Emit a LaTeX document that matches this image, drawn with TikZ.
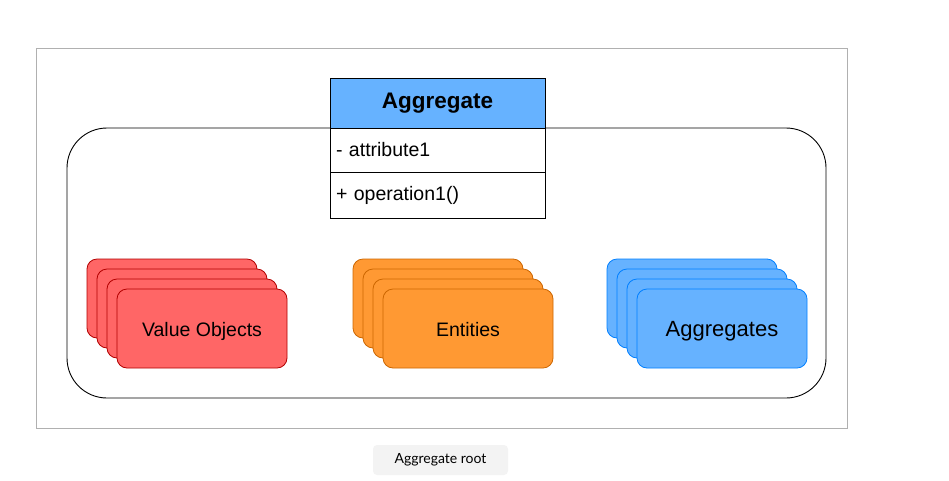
\documentclass[tikz,border=0pt]{standalone}
\usepackage{fontspec}
\setmainfont{Liberation Sans}
\newfontfamily\captionfont{Lato}
\usepackage{tikz}

\definecolor{voFill}{HTML}{FF6666}
\definecolor{voLine}{HTML}{B20000}
\definecolor{enFill}{HTML}{FF9933}
\definecolor{enLine}{HTML}{CC6600}
\definecolor{agFill}{HTML}{66B2FF}
\definecolor{agLine}{HTML}{007FFF}
\definecolor{frameGray}{HTML}{B0B0B0}
\definecolor{chipGray}{HTML}{F3F3F3}

\tikzset{
  card/.style={draw, rounded corners=10pt, minimum width=170pt, minimum height=79pt,
    line width=0.8pt, inner sep=0pt, text height=18pt, text depth=3pt,
    font=\fontsize{19.5}{23}\selectfont},
  classrow/.style={draw, line width=0.9pt, fill=white, minimum width=215pt,
    text width=203pt, align=left, inner xsep=6pt, inner ysep=0pt,
    font=\fontsize{19.5}{23}\selectfont},
}

\begin{document}
\begin{tikzpicture}[x=1pt, y=-1pt]
  \useasboundingbox (0,0) rectangle (949,480);

  % outer frame and aggregate boundary
  \draw[frameGray, line width=0.9pt] (36,48) rectangle (847,428);
  \draw[line width=0.9pt, rounded corners=40pt] (67,128) rectangle (826,398);

  % aggregate class
  \node[classrow, fill=agFill, minimum height=50pt, align=center,
    font=\fontsize{22.5}{26}\bfseries] (aggHead) at (437.5,103) {Aggregate};
  \node[classrow, minimum height=44pt] (aggAttr) at (437.5,150) {- attribute1};
  \node[classrow, minimum height=46pt] (aggOp) at (437.5,195) {+ operation1()};

  % value objects
  \node[card, fill=voFill, draw=voLine] (vo1) at (172,298.5) {};
  \node[card, fill=voFill, draw=voLine] (vo2) at (182,308.5) {};
  \node[card, fill=voFill, draw=voLine] (vo3) at (192,318.5) {};
  \node[card, fill=voFill, draw=voLine] (vo4) at (202,328.5) {Value Objects};

  % entities
  \node[card, fill=enFill, draw=enLine] (en1) at (438,298.5) {};
  \node[card, fill=enFill, draw=enLine] (en2) at (448,308.5) {};
  \node[card, fill=enFill, draw=enLine] (en3) at (458,318.5) {};
  \node[card, fill=enFill, draw=enLine] (en4) at (468,328.5) {Entities};

  % aggregates
  \node[card, fill=agFill, draw=agLine] (ag1) at (692,298.5) {};
  \node[card, fill=agFill, draw=agLine] (ag2) at (702,308.5) {};
  \node[card, fill=agFill, draw=agLine] (ag3) at (712,318.5) {};
  \node[card, fill=agFill, draw=agLine, font=\fontsize{22}{26}\selectfont] (ag4) at (722,328.5) {Aggregates};

  % caption
  \node[fill=chipGray, rounded corners=4pt, minimum width=135pt, minimum height=30pt,
    font=\captionfont\fontsize{14}{17}\selectfont] (rootCap) at (440.5,460) {Aggregate root};
\end{tikzpicture}
\end{document}
